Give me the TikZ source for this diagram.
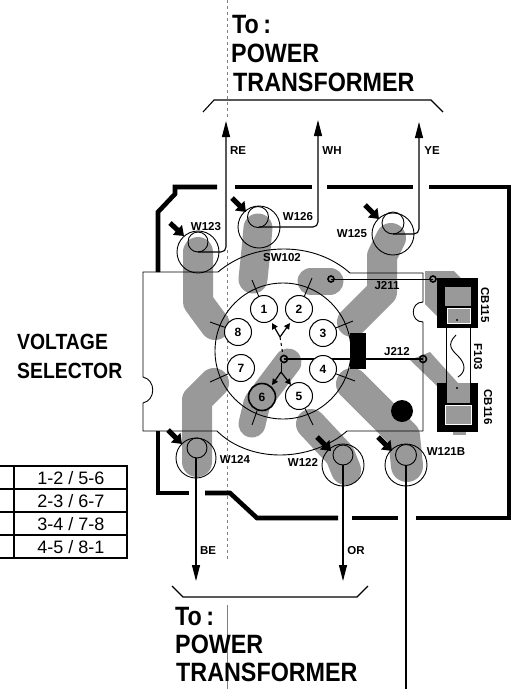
\documentclass[tikz,border=0pt]{standalone}
\usepackage{fontspec}
\usepackage{tikz}
\usetikzlibrary{arrows.meta}
\setmainfont{Liberation Sans}
\newfontfamily\titlefont[FakeStretch=0.88]{Liberation Sans}
\tikzset{
	padtrack/.style={line width=#1, color=black!40, line cap=round, line join=round},
	padfill/.style={fill=black!40, draw=none},
	boldrule/.style={line width=4.6pt, line join=miter},
	thinline/.style={line width=0.9pt},
	wire/.style={line width=1.1pt, rounded corners=5pt, -{Triangle[length=16pt,width=8pt]}},
	blockarrow/.style={line width=5pt, -{Triangle[length=9pt,width=13pt]}},
	selpin/.style={draw, circle, fill=white, line width=1pt, minimum size=27pt, inner sep=0pt, font=\bfseries\fontsize{12}{12}\selectfont},
	titletext/.style={anchor=base west, inner sep=0pt, font=\titlefont\bfseries\fontsize{26.5}{26.5}\selectfont},
	sidetext/.style={anchor=base west, inner sep=0pt, font=\titlefont\bfseries\fontsize{22}{22}\selectfont},
	smalltext/.style={inner sep=0pt, font=\bfseries\fontsize{11.5}{11.5}\selectfont},
	tabletext/.style={inner sep=0pt, font=\fontsize{18}{18}\selectfont}
}

\begin{document}
\begin{tikzpicture}[x=1pt,y=-1pt]
			%%%%% START %%%%%
			\useasboundingbox (0,0) rectangle (512,689);
			
			\coordinate (w123) at (198,252);
			\coordinate (w126) at (259,227);
			\coordinate (w125) at (393,234);
			\coordinate (w124) at (196,458);
			\coordinate (w122) at (343,465);
			\coordinate (w121) at (406,465);
			\coordinate (tipre) at (226,121);
			\coordinate (tipwh) at (318,120);
			\coordinate (tipye) at (419,122);
			\coordinate (tipbe) at (196,581);
			\coordinate (tipor) at (343,581);
			\coordinate (wireend) at (406,689);
			
			% fold marks
			\draw[line width=0.4pt, dashed, color=black!50] (227,0) -- (227,120);
			\draw[line width=0.4pt, dashed, color=black!50] (227,250) -- (227,560);
			\draw[line width=0.4pt, color=black!50] (227,605) -- (227,689);
			
			% pads
			\draw[padtrack=30pt] (198,252) -- (198,302) -- (215,325);
			\draw[padtrack=29pt] (258,228) -- (256,250) -- (253,279);
			\draw[padtrack=27pt] (311,281) -- (330,281);
			\draw[padtrack=30pt] (391,238) -- (382,256) -- (382,292) -- (352,322);
			\draw[padtrack=30pt] (197,462) -- (197,400) -- (214,383);
			\draw[padtrack=27pt] (288,362) -- (257,403) -- (252,424);
			\draw[padtrack=30pt] (311,424) -- (340,455) -- (346,470);
			\draw[padtrack=32pt] (352,384) -- (404,436) -- (407,466);
			\path[padfill] (425,271) -- (454,271) -- (466,283) -- (439,283) -- (439,318) -- (425,304) -- cycle;
			\path[padfill] (410,360) -- (430,352) -- (458,383) -- (438,387) -- cycle;
			\path[padfill] (453,430) rectangle (466,435);
			
			% board
			\draw[thinline] (143,272) -- (218,272) .. controls (236,257) and (258,249) .. (284,249) .. controls (310,249) and (333,258) .. (350,273) -- (423,273) -- (423,302) .. controls (410,302) and (410,322) .. (423,322) -- (423,431) -- (347,431) .. controls (330,446) and (305,455) .. (280,455) .. controls (255,455) and (232,446) .. (217,431) -- (143,431) -- (143,403) .. controls (156,400) and (156,380) .. (143,377) -- cycle;
			\draw[boldrule] (158,272) -- (158,212) -- (175,194) -- (175,187) -- (217,187);
			\draw[boldrule] (235,187) -- (312,187);
			\draw[boldrule] (327,187) -- (413,187);
			\draw[boldrule] (429,187) -- (509,187) -- (509,518) -- (416,518);
			\draw[boldrule] (158,431) -- (158,493) -- (189,493);
			\draw[boldrule] (205,493) -- (230,493) -- (257,518) -- (338,518);
			\draw[boldrule] (352,518) -- (398,518);
			
			% jumpers
			\draw[thinline] (331,279) -- (433,279);
			\draw[line width=1.6pt] (331,279) circle (3);
			\draw[line width=1.6pt] (433,279) circle (3);
			\draw[line width=1.2pt] (284,359) -- (423,359);
			\draw[line width=1.6pt] (284,359) circle (3.5);
			\draw[line width=1.6pt] (423,359) circle (3.5);
			
			% switch
			\draw[thinline] (283,351) circle (68);
			\fill (350,333) rectangle (366,369);
			\fill (402,411) circle (11);
			
			\node[selpin] (pin1) at (264,309) {1};
			\node[selpin] (pin2) at (299,309) {2};
			\node[selpin] (pin3) at (323,333) {3};
			\node[selpin] (pin4) at (323,369) {4};
			\node[selpin] (pin5) at (299,396) {5};
			\node[selpin, fill=none, line width=1.6pt] (pin6) at (262,397) {6};
			\node[selpin] (pin7) at (241,368) {7};
			\node[selpin] (pin8) at (238,332) {8};
			
			\draw[thinline] (pin1) -- (252,280);
			\draw[thinline] (pin2) -- (312,278);
			\draw[thinline] (pin3) -- (353,321);
			\draw[thinline] (pin4) -- (355,381);
			\draw[thinline] (pin5) -- (313,425);
			\draw[thinline] (pin6) -- (252,425);
			\draw[thinline] (pin7) -- (210,382);
			\draw[thinline] (pin8) -- (210,322);
			
			\draw[line width=1.2pt, -{Triangle[length=6pt,width=6pt]}] (280,337) -- (272,323);
			\draw[line width=1.2pt, -{Triangle[length=6pt,width=6pt]}] (280,337) -- (290,323);
			\draw[line width=1pt, dashed] (280,337) -- (283,355);
			\draw[line width=1.2pt, -{Triangle[length=6pt,width=6pt]}] (281,372) -- (272,385);
			\draw[line width=1.2pt, -{Triangle[length=6pt,width=6pt]}] (281,372) -- (291,385);
			\draw[line width=1pt] (281,363) -- (281,372);
			
			% fuse
			\fill (437,278) rectangle (478,328);
			\path[fill=black!40] (445,287) rectangle (471,306);
			\path[fill=black!40, draw=white, line width=0.8pt] (447,308) rectangle (470,323);
			\fill (457,320) circle (1.2);
			\fill (437,383) rectangle (478,432);
			\path[fill=black!40] (447,383) rectangle (470,403);
			\path[fill=black!40, draw=white, line width=0.8pt] (445,405) rectangle (471,424);
			\fill (457,388) circle (1.2);
			\draw[thinline] (446,328) -- (446,403);
			\draw[thinline] (470,328) -- (470,383);
			\draw[thinline] (456,335) .. controls (446,345) and (452,350) .. (458,356) .. controls (466,364) and (466,372) .. (458,377);
			
			% terminals
			\draw[thinline] (w123) circle (21);
			\draw[thinline] (198,242) circle (10);
			\draw[thinline] (w126) circle (21);
			\draw[thinline] (258,217) circle (10.5);
			\draw[thinline] (w125) circle (21);
			\draw[thinline] (393,223) circle (11);
			\draw[thinline] (w124) circle (20);
			\draw[thinline] (197,448) circle (10);
			\draw[thinline] (w122) circle (21);
			\draw[thinline] (343,455) circle (10);
			\draw[thinline] (w121) circle (21);
			\draw[thinline] (406,455) circle (10.5);
			
			\draw[blockarrow] (170,223) -- (184,236);
			\draw[blockarrow] (232,198) -- (246,212);
			\draw[blockarrow] (365,205) -- (379,219);
			\draw[blockarrow] (168,430) -- (182,444);
			\draw[blockarrow] (317,437) -- (331,451);
			\draw[blockarrow] (378,437) -- (392,451);
			
			% wires
			\draw[wire] (w123) -| (tipre);
			\draw[wire] (w126) -| (tipwh);
			\draw[wire] (w125) -| (tipye);
			\draw[wire] (w124) -- (tipbe);
			\draw[wire] (w122) -- (tipor);
			\draw[line width=1.1pt] (w121) -- (wireend);
			
			% labels
			\node[smalltext] (lblre) at (238,151) {RE};
			\node[smalltext] (lblwh) at (332,151) {WH};
			\node[smalltext] (lblye) at (432,151) {YE};
			\node[smalltext] (lblbe) at (208,551) {BE};
			\node[smalltext] (lblor) at (356,551) {OR};
			\node[smalltext] (lblw123) at (206,227) {W123};
			\node[smalltext] (lblw126) at (298,217) {W126};
			\node[smalltext] (lblw125) at (352,234) {W125};
			\node[smalltext] (lblw124) at (235,459) {W124};
			\node[smalltext] (lblw122) at (303,462) {W122};
			\node[smalltext] (lblw121) at (446,451) {W121B};
			\node[smalltext] (lblsw) at (282,258) {SW102};
			\node[smalltext] (lblj211) at (387,286) {J211};
			\node[smalltext] (lblj212) at (397,352) {J212};
			\node[smalltext, rotate=-90] (lblcb115) at (485,305) {CB115};
			\node[smalltext, rotate=-90] (lblf103) at (478,357) {F103};
			\node[smalltext, rotate=-90] (lblcb116) at (488,407) {CB116};
			
			\node[titletext] (toptoa) at (232,33) {To\,:};
			\node[titletext] (toptob) at (231,62) {POWER};
			\node[titletext] (toptoc) at (233,91) {TRANSFORMER};
			\node[titletext] (bottoa) at (175,625) {To\,:};
			\node[titletext] (bottob) at (175,653) {POWER};
			\node[titletext] (bottoc) at (176,681) {TRANSFORMER};
			\draw[line width=1.1pt] (203,112) -- (214,100) -- (431,100) -- (443,112);
			\draw[line width=1.1pt] (172,586) -- (183,597) -- (357,597) -- (368,586);
			
			\node[sidetext] (volt) at (17,349) {VOLTAGE};
			\node[sidetext] (sel) at (17,378) {SELECTOR};
			
			% table
			\draw[line width=1.1pt] (0,466) -- (127,466) -- (127,558) -- (0,558);
			\draw[line width=1.1pt] (0,489) -- (127,489);
			\draw[line width=1.1pt] (0,512) -- (127,512);
			\draw[line width=1.1pt] (0,535) -- (127,535);
			\draw[line width=1.1pt] (14,466) -- (14,558);
			\node[tabletext] (rowa) at (71,478) {1-2 / 5-6};
			\node[tabletext] (rowb) at (71,501) {2-3 / 6-7};
			\node[tabletext] (rowc) at (71,524) {3-4 / 7-8};
			\node[tabletext] (rowd) at (71,547) {4-5 / 8-1};
			
			%%%%% END %%%%%
		\end{tikzpicture}
\end{document}
